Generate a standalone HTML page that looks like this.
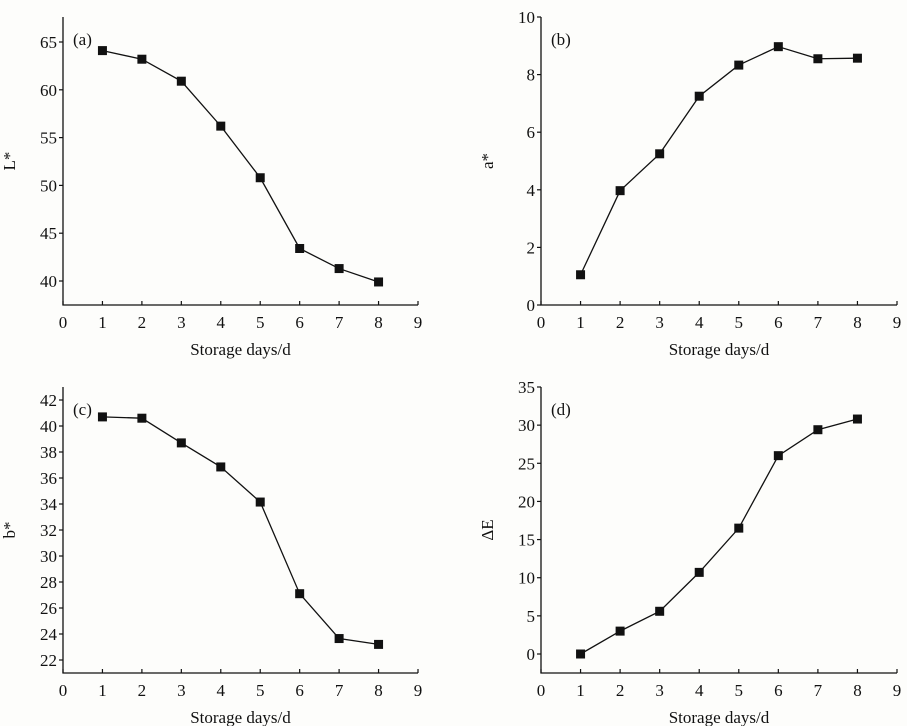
<!DOCTYPE html>
<html><head><meta charset="utf-8"><style>
html,body{margin:0;padding:0;background:#fdfdfb;}
svg{display:block;font-family:"Liberation Serif",serif;}
</style></head><body>
<svg id="chart" width="907" height="726" viewBox="0 0 907 726"></svg>
<script>
const days = [1,2,3,4,5,6,7,8];
const xTicks = [0,1,2,3,4,5,6,7,8,9];
const seriesA = [64.1,63.2,60.9,56.2,50.8,43.4,41.3,39.9];
const seriesB = [1.05,3.97,5.25,7.25,8.33,8.97,8.55,8.57];
const seriesC = [40.7,40.6,38.7,36.85,34.15,27.1,23.65,23.2];
const seriesD = [0,3.0,5.6,10.7,16.5,26.0,29.4,30.8];
const ticksA = [40,45,50,55,60,65];
const ticksB = [0,2,4,6,8,10];
const ticksC = [22,24,26,28,30,32,34,36,38,40,42];
const ticksD = [0,5,10,15,20,25,30,35];

const NS="http://www.w3.org/2000/svg";
const svg=document.getElementById('chart');
function mk(tag,attrs,parent){const e=document.createElementNS(NS,tag);for(const k in attrs)e.setAttribute(k,attrs[k]);(parent||svg).appendChild(e);return e;}

const panels=[
 {id:'a',tag:'(a)',ylab:'L*',data:seriesA,ticks:ticksA,x0:63,x9:418,axTop:17,axBot:305,v1:40,p1:281,v2:65,p2:42},
 {id:'b',tag:'(b)',ylab:'a*',data:seriesB,ticks:ticksB,x0:541,x9:897,axTop:17,axBot:305,v1:0,p1:305,v2:10,p2:17},
 {id:'c',tag:'(c)',ylab:'b*',data:seriesC,ticks:ticksC,x0:63,x9:418,axTop:387,axBot:673,v1:22,p1:660,v2:42,p2:400},
 {id:'d',tag:'(d)',ylab:'ΔE',data:seriesD,ticks:ticksD,x0:541,x9:897,axTop:387,axBot:673,v1:0,p1:654,v2:35,p2:387}
];

panels.forEach(p=>{
  const g=mk('g',{});
  
  
  const xs=v=>p.x0+(p.x9-p.x0)*v/9;
  const ys=v=>p.p1+(p.p2-p.p1)*(v-p.v1)/(p.v2-p.v1);
  const ax=mk('path',{d:`M${p.x0},${p.axTop}V${p.axBot}H${p.x9}`,fill:'none',stroke:'#111','stroke-width':1.3},g);
  
  
  xTicks.forEach(t=>{
    const x=xs(t);
    mk('line',{x1:x,x2:x,y1:p.axBot,y2:p.axBot-4,stroke:'#111','stroke-width':1.2},g);
    const tx=mk('text',{x:x,y:p.axBot+23,'text-anchor':'middle','font-size':17,fill:'#111'},g);
    tx.textContent=t;
    
    
  });
  p.ticks.forEach(t=>{
    const y=ys(t);
    mk('line',{x1:p.x0,x2:p.x0-4,y1:y,y2:y,stroke:'#111','stroke-width':1.2},g);
    const tx=mk('text',{x:p.x0-6,y:y+6,'text-anchor':'end','font-size':17,fill:'#111'},g);
    tx.textContent=t;
    
    
  });
  const xl=mk('text',{x:(p.x0+p.x9)/2,y:p.axBot+50,'text-anchor':'middle','font-size':17,fill:'#111'},g);
  xl.textContent='Storage days/d';
  
  
  const ly=(p.axTop+p.axBot)/2;
  const lx=p.x0-48;
  const yl=mk('text',{x:lx,y:ly,'text-anchor':'middle','font-size':17,fill:'#111',transform:`rotate(-90 ${lx} ${ly})`},g);
  yl.textContent=p.ylab;
  
  
  const tg=mk('text',{x:p.x0+10,y:p.axTop+28,'font-size':17,fill:'#111'},g);
  tg.textContent=p.tag;
  
  
  const pts=days.map((d,i)=>xs(d)+','+ys(p.data[i])).join(' ');
  const ln=mk('polyline',{points:pts,fill:'none',stroke:'#111','stroke-width':1.3},g);
  
  
  days.forEach((d,i)=>{
    const r=mk('rect',{x:xs(d)-4.5,y:ys(p.data[i])-4.5,width:9,height:9,fill:'#111'},g);
    
    
  });
});
</script>
</body></html>
